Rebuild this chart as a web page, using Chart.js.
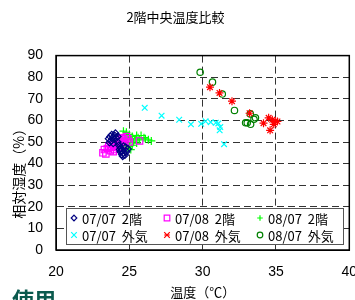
<!DOCTYPE html>
<html>
<head>
<meta charset="utf-8">
<script src="https://cdn.jsdelivr.net/npm/chart.js@4.4.0/dist/chart.umd.min.js"></script>
<style>
  html, body { margin: 0; padding: 0; background: #fff; }
  #wrap { position: relative; width: 355px; height: 300px; overflow: hidden; }
  #note { position: absolute; left: 12px; top: 282px; font: bold 22px "Noto Sans CJK JP"; color: #0b5a4e; }
</style>
</head>
<body>
<div id="wrap">
  <canvas id="c" width="355" height="300" style="width:355px;height:300px"></canvas>
  <span id="note">使用</span>
</div>
<script>
// temperature (°C) / relative humidity (%) pairs per series
const t0707in  = [23.6, 23.7, 23.8, 23.9, 23.75, 24.0, 24.1, 23.65, 23.9, 24.2, 24.3, 24.4, 24.5, 24.6, 24.7, 24.5, 24.4, 24.8, 24.9, 24.75, 24.6, 24.35, 24.55, 24.2, 24.05];
const rh0707in = [51.5, 52.5, 53.3, 52.0, 50.5, 53.0, 51.8, 49.8, 49.5, 50.0, 48.5, 47.2, 46.0, 45.0, 44.0, 44.3, 45.5, 45.5, 46.8, 47.5, 48.0, 46.5, 43.5, 52.5, 54.0];

const t0708in  = [23.2, 23.3, 23.5, 23.6, 23.7, 23.8, 23.9, 24.0, 24.1, 24.2, 24.3, 24.4, 24.5, 24.6, 24.7, 24.8, 24.9, 24.0, 24.3, 23.9, 24.6, 25.0, 25.7, 23.4];
const rh0708in = [45.0, 46.5, 47.0, 48.0, 46.0, 47.5, 49.0, 48.0, 50.0, 49.0, 51.0, 50.0, 52.0, 51.5, 50.5, 52.5, 51.5, 46.5, 47.5, 45.5, 49.0, 50.0, 50.5, 44.5];

const t0807in  = [24.6, 24.8, 24.7, 24.9, 25.0, 25.1, 25.2, 25.3, 24.8, 25.0, 24.9, 25.2, 25.4, 25.5, 25.6, 25.7, 25.8, 26.0, 26.1, 26.3, 26.5, 25.5, 24.5, 24.4, 25.1, 24.7];
const rh0807in = [55.0, 54.5, 53.0, 52.0, 53.5, 51.0, 52.5, 50.0, 49.0, 48.0, 47.0, 48.5, 51.5, 53.0, 52.0, 51.0, 53.0, 52.0, 51.5, 51.0, 50.5, 49.5, 51.5, 50.0, 46.5, 47.5];

const t0707out  = [26.05, 27.2, 28.4, 29.2, 29.9, 30.2, 30.55, 30.9, 31.07, 31.2, 31.16, 31.46];
const rh0707out = [65.8, 62.2, 60.3, 58.2, 58.4, 59.6, 59.2, 58.9, 58.6, 56.9, 55.4, 49.0];

const t0708out  = [30.5, 31.15, 32.0, 33.2, 34.15, 34.5, 34.6, 34.95, 35.1, 34.85, 34.75];
const rh0708out = [75.4, 72.7, 68.9, 63.3, 58.7, 61.2, 55.4, 59.7, 59.5, 58.2, 60.3];

const t0807out  = [29.83, 30.67, 31.34, 32.17, 33.25, 33.6, 33.5, 33.04, 33.27, 32.93];
const rh0807out = [82.3, 77.7, 72.2, 64.6, 63.0, 61.2, 60.5, 58.9, 58.2, 58.9];

const labels = ['07/07  2階', '07/08  2階', '08/07  2階', '07/07  外気', '07/08  外気', '08/07  外気'];
const colors = ['#000080', '#ff00ff', '#00ff00', '#00ffff', '#ff0000', '#008000'];
const styles = ['rectRot', 'rect', 'cross', 'crossRot', 'star', 'circle'];
const radii  = [3.5, 4.5, 4, 4, 4, 3.2];

const xTicks = [20, 25, 30, 35, 40];
const yTicks = [0, 10, 20, 30, 40, 50, 60, 70, 80, 90];

const seriesT  = [t0707in, t0708in, t0807in, t0707out, t0708out, t0807out];
const seriesRH = [rh0707in, rh0708in, rh0807in, rh0707out, rh0708out, rh0807out];

const tickFont = { family: '"Liberation Sans Narrow", "Liberation Sans", sans-serif', size: 14 };
const jpFont = '"Noto Sans CJK JP", sans-serif';

function pairs(ts, rhs) {
  return ts.map((t, i) => ({ x: t, y: rhs[i] }));
}

const datasets = labels.map((lab, i) => ({
  label: lab,
  data: pairs(seriesT[i], seriesRH[i]),
  pointStyle: styles[i],
  pointRadius: radii[i],
  pointHoverRadius: radii[i],
  pointBorderWidth: 1.2,
  borderColor: colors[i],
  backgroundColor: 'rgba(0,0,0,0)',
  showLine: false
}));

function gridColor(ctx) {
  const v = ctx.tick && ctx.tick.value;
  const s = ctx.scale;
  if (v === s.min || v === s.max) return 'rgba(0,0,0,0)';
  return '#333';
}

function marker(ctx, style, x, y, r) {
  ctx.beginPath();
  if (style === 'rectRot') {
    ctx.moveTo(x, y - r); ctx.lineTo(x + r, y); ctx.lineTo(x, y + r); ctx.lineTo(x - r, y); ctx.closePath();
  } else if (style === 'rect') {
    ctx.rect(x - r, y - r, 2 * r, 2 * r);
  } else if (style === 'cross') {
    ctx.moveTo(x - r, y); ctx.lineTo(x + r, y); ctx.moveTo(x, y - r); ctx.lineTo(x, y + r);
  } else if (style === 'crossRot') {
    ctx.moveTo(x - r, y - r); ctx.lineTo(x + r, y + r); ctx.moveTo(x + r, y - r); ctx.lineTo(x - r, y + r);
  } else if (style === 'star') {
    ctx.moveTo(x - r, y - r); ctx.lineTo(x + r, y + r); ctx.moveTo(x + r, y - r); ctx.lineTo(x - r, y + r);
    ctx.moveTo(x - r, y); ctx.lineTo(x + r, y);
  } else {
    ctx.arc(x, y, r, 0, Math.PI * 2);
  }
  ctx.stroke();
}

const framePlugin = {
  id: 'frame',
  afterDraw(chart) {
    const ctx = chart.ctx;
    const a = chart.chartArea;
    ctx.save();
    // legend box inside the plot
    const lx = 66, ly = 208, lw = 277, lh = 36;
    ctx.fillStyle = '#fff';
    ctx.fillRect(lx, ly, lw, lh);
    ctx.strokeStyle = '#555';
    ctx.lineWidth = 1;
    ctx.strokeRect(lx + 0.5, ly + 0.5, lw, lh);
    const colX = [74, 167, 260];
    const rowY = [218, 235];
    ctx.font = '13px ' + jpFont;
    ctx.textBaseline = 'middle';
    labels.forEach((lab, i) => {
      const cx = colX[i % 3], cy = rowY[Math.floor(i / 3)];
      ctx.strokeStyle = colors[i];
      ctx.lineWidth = 1.2;
      marker(ctx, styles[i], cx, cy, 2.8);
      ctx.fillStyle = '#000';
      ctx.fillText(lab, cx + 8, cy + 1);
    });
    // solid frame round the plot area
    ctx.strokeStyle = '#000';
    ctx.lineWidth = 1.5;
    ctx.strokeRect(a.left, a.top, a.right - a.left, a.bottom - a.top);
    ctx.restore();
  }
};

new Chart(document.getElementById('c').getContext('2d'), {
  type: 'scatter',
  data: { datasets: datasets },
  options: {
    responsive: false,
    animation: false,
    layout: { padding: { left: 0, right: 4, top: 0, bottom: 0 } },
    plugins: {
      legend: { display: false },
      tooltip: { enabled: false },
      title: {
        display: true,
        text: '2階中央温度比較',
        color: '#000',
        font: { family: jpFont, size: 13, weight: 'normal' },
        padding: { top: 9, bottom: 31 }
      }
    },
    scales: {
      x: {
        type: 'linear',
        min: xTicks[0],
        max: xTicks[xTicks.length - 1],
        afterBuildTicks: s => { s.ticks = xTicks.map(v => ({ value: v })); },
        afterFit: s => { s.height = 50; s.paddingLeft = 0; s.paddingRight = 0; },
        ticks: { color: '#000', font: tickFont, padding: 14, maxRotation: 0 },
        grid: { color: gridColor, lineWidth: 1, drawTicks: false },
        border: { display: true, color: '#000', dash: [7, 4] },
        title: { display: true, text: '温度（℃）', color: '#000', font: { family: jpFont, size: 13 }, padding: 0 }
      },
      y: {
        type: 'linear',
        min: yTicks[0],
        max: yTicks[yTicks.length - 1],
        afterBuildTicks: s => { s.ticks = yTicks.map(v => ({ value: v })); },
        afterFit: s => { s.width = 56; s.paddingTop = 0; s.paddingBottom = 0; },
        ticks: { color: '#000', font: tickFont, padding: 13 },
        grid: { color: gridColor, lineWidth: 1, drawTicks: false },
        border: { display: true, color: '#000', dash: [7, 4] },
        title: { display: true, text: '相対湿度（%）　　　', color: '#000', font: { family: jpFont, size: 14 }, padding: { top: 10, bottom: 0 } }
      }
    }
  },
  plugins: [framePlugin]
});
</script>
</body>
</html>
